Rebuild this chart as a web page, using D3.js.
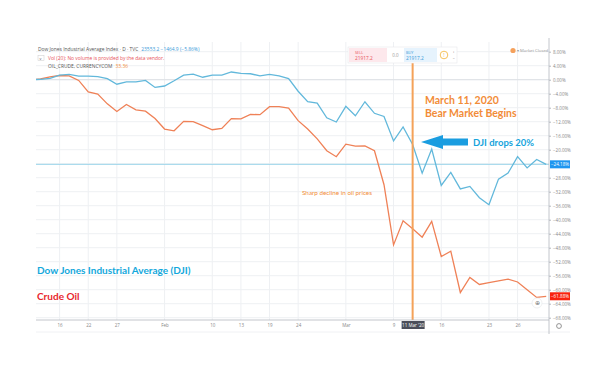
<!DOCTYPE html>
<html>
<head>
<meta charset="utf-8">
<script src="https://cdn.jsdelivr.net/npm/d3@7"></script>
<style>
  body { margin: 0; background: #fff; }
  svg { display: block; }
</style>
</head>
<body>
<div id="chart"></div>
<script>
// trading days shown on the chart
var days = ["2020-01-13","2020-01-14","2020-01-15","2020-01-16","2020-01-17","2020-01-21","2020-01-22","2020-01-23","2020-01-24",
	"2020-01-27","2020-01-28","2020-01-29","2020-01-30","2020-01-31","2020-02-03","2020-02-04","2020-02-05","2020-02-06","2020-02-07",
	"2020-02-10","2020-02-11","2020-02-12","2020-02-13","2020-02-14","2020-02-18","2020-02-19","2020-02-20","2020-02-21",
	"2020-02-24","2020-02-25","2020-02-26","2020-02-27","2020-02-28","2020-03-02","2020-03-03","2020-03-04","2020-03-05","2020-03-06",
	"2020-03-09","2020-03-10","2020-03-11","2020-03-12","2020-03-13","2020-03-16","2020-03-17","2020-03-18","2020-03-19","2020-03-20",
	"2020-03-23","2020-03-24","2020-03-25","2020-03-26","2020-03-27","2020-03-30","2020-03-31"]

// % change
var dji = [0, 0.1, 0.4, 1.3, 1.5, 1.0, 1.0, 0.9, 0.3,
	-1.3, -0.6, -0.6, -0.2, -2.2, -1.8, -0.3, 1.3, 1.6, 0.7,
	1.3, 1.3, 2.2, 1.8, 1.7, 1.1, 1.5, 1.1, 0.3,
	-3.3, -6.3, -6.7, -10.9, -12.1, -7.6, -10.3, -6.3, -9.6, -10.5,
	-17.5, -13.5, -18.5, -26.7, -19.8, -30.2, -26.5, -31.2, -30.5, -33.7,
	-35.7, -28.4, -26.7, -22.0, -25.2, -22.8, -24.18]

var oil = [0, 0.2, 0.8, 1.2, 1.1, -0.2, -3.5, -4.1, -6.9,
	-9.1, -7.1, -8.6, -9.0, -11.1, -14.1, -14.6, -11.9, -12.0, -13.1,
	-14.3, -13.9, -11.1, -11.2, -9.9, -10.0, -7.7, -7.7, -8.1,
	-11.7, -14.1, -16.9, -20.3, -22.0, -18.4, -19.0, -18.9, -20.3, -30.0,
	-47.2, -40.3, -42.6, -45.0, -40.5, -50.5, -49.0, -60.8, -56.5, -58.5,
	-58.0, -57.5, -57.0, -57.8, -60.0, -62.2, -61.88]

var tickDates = ["2020-01-16","2020-01-22","2020-01-27","2020-02-03","2020-02-10","2020-02-13","2020-02-19","2020-02-24",
	"2020-03-02","2020-03-09","2020-03-16","2020-03-23","2020-03-26"]
var tickLabels = ["16","22","27","Feb","10","13","19","24","Mar","9","16","23","26"]

var yTicks = d3.range(8, -69, -4)
var eventDate = "2020-03-11"

var width = 600, height = 384
var plotLeft = 36, plotRight = 549, plotTop = 42, plotBottom = 320

var svg = d3.select("#chart").append("svg")
	.attr("width", width)
	.attr("height", height)
	.style("font-family", "'Open Sans', sans-serif")

var x = d3.scaleLinear()
	.domain([0, days.length - 1])
	.range([31, 546.2])

var y = d3.scaleLinear()
	.domain([8, -68])
	.range([51.7, 317.7])

function xd(date){ return x(days.indexOf(date)) }

// grid
svg.append("g").selectAll("line")
	.data(tickDates)
	.enter().append("line")
	.attr("x1", function(d){ return xd(d) })
	.attr("x2", function(d){ return xd(d) })
	.attr("y1", plotTop)
	.attr("y2", plotBottom)
	.attr("stroke", "#eef0f3")
	.attr("stroke-width", 1)

svg.append("g").selectAll("line")
	.data(yTicks)
	.enter().append("line")
	.attr("x1", plotLeft)
	.attr("x2", plotRight)
	.attr("y1", function(d){ return y(d) })
	.attr("y2", function(d){ return y(d) })
	.attr("stroke", "#eef0f3")
	.attr("stroke-width", 1)

// zero line
svg.append("line")
	.attr("x1", plotLeft).attr("x2", plotRight)
	.attr("y1", y(0)).attr("y2", y(0))
	.attr("stroke", "#d8dbe0").attr("stroke-width", 0.8)

// last value price line of DJI
svg.append("line")
	.attr("x1", plotLeft).attr("x2", plotRight)
	.attr("y1", y(dji[dji.length - 1])).attr("y2", y(dji[dji.length - 1]))
	.attr("stroke", "#9ad4ea").attr("stroke-width", 1)

svg.append("clipPath").attr("id", "plotclip")
	.append("rect").attr("x", plotLeft).attr("y", plotTop)
	.attr("width", plotRight - plotLeft).attr("height", plotBottom - plotTop)

var line = d3.line()
	.x(function(d, i){ return x(i) })
	.y(function(d){ return y(d) })

var plot = svg.append("g").attr("clip-path", "url(#plotclip)")

plot.append("path")
	.datum(oil)
	.attr("d", line)
	.attr("fill", "none")
	.attr("stroke", "#ef8157")
	.attr("stroke-width", 1.3)

plot.append("path")
	.datum(dji)
	.attr("d", line)
	.attr("fill", "none")
	.attr("stroke", "#62b8db")
	.attr("stroke-width", 1.3)

// event line
svg.append("line")
	.attr("x1", xd(eventDate)).attr("x2", xd(eventDate))
	.attr("y1", 63).attr("y2", plotBottom)
	.attr("stroke", "#f4a259")
	.attr("stroke-width", 2)

// axes frame
svg.append("line")
	.attr("x1", plotLeft).attr("x2", plotRight)
	.attr("y1", plotBottom).attr("y2", plotBottom)
	.attr("stroke", "#b4b8bf").attr("stroke-width", 0.8)
svg.append("line")
	.attr("x1", plotLeft).attr("x2", 570)
	.attr("y1", 332).attr("y2", 332)
	.attr("stroke", "#eceef1").attr("stroke-width", 0.8)
svg.append("line")
	.attr("x1", plotRight).attr("x2", plotRight)
	.attr("y1", plotTop - 4).attr("y2", 334)
	.attr("stroke", "#b4b8bf").attr("stroke-width", 0.8)

// x axis labels
var xAxis = d3.axisBottom(x)
	.tickValues(tickDates.map(function(d){ return days.indexOf(d) }))
	.tickFormat(function(d, i){ return tickLabels[i] })
	.tickSize(0)
	.tickPadding(4)
var gx = svg.append("g")
	.attr("transform", "translate(0," + plotBottom + ")")
	.call(xAxis)
gx.select(".domain").remove()
gx.selectAll("text").attr("fill", "#888").attr("font-size", 4.5).attr("font-family", "'Open Sans', sans-serif")

// right axis labels
var boxes = [dji[dji.length - 1], oil[oil.length - 1]]
var yAxis = d3.axisRight(y)
	.tickValues(yTicks.filter(function(t){
		return boxes.every(function(b){ return Math.abs(y(t) - y(b)) > 5 })
	}))
	.tickFormat(function(d){ return d3.format(".2f")(d).replace("-", "\u2212") + "%" })
	.tickSize(2)
	.tickPadding(2)
var gy = svg.append("g")
	.attr("transform", "translate(" + plotRight + ",0)")
	.call(yAxis)
gy.select(".domain").remove()
gy.selectAll("line").attr("stroke", "#b4b8bf")
gy.selectAll("text").attr("fill", "#888").attr("font-size", 4.5).attr("font-family", "'Open Sans', sans-serif")

// last value boxes
var boxColours = ["#1e96f0", "#f8230e"]
boxes.forEach(function(b, i){
	svg.append("rect")
		.attr("x", plotRight + 1).attr("y", y(b) - 4)
		.attr("width", 20).attr("height", 8)
		.attr("fill", boxColours[i])
	svg.append("text")
		.attr("x", plotRight + 11).attr("y", y(b) + 1.7)
		.attr("text-anchor", "middle")
		.attr("font-size", 4.6)
		.attr("fill", "#fff")
		.text(d3.format(".2f")(b).replace("-", "\u2212") + "%")
})

// date box on x axis
svg.append("rect")
	.attr("x", xd(eventDate) - 11).attr("y", plotBottom + 1)
	.attr("width", 23).attr("height", 8)
	.attr("fill", "#4a4e5a")
svg.append("text")
	.attr("x", xd(eventDate) + 0.5).attr("y", plotBottom + 6.6)
	.attr("text-anchor", "middle")
	.attr("font-size", 4.5)
	.attr("fill", "#fff")
	.text("11 Mar '20")

// gear icon + small circle button
svg.append("circle").attr("cx", 559).attr("cy", 326).attr("r", 2.4)
	.attr("fill", "none").attr("stroke", "#888").attr("stroke-width", 0.9)
svg.append("circle").attr("cx", 537).attr("cy", 303).attr("r", 5)
	.attr("fill", "#fff").attr("stroke", "#e3e5e8").attr("stroke-width", 0.6)
svg.append("text").attr("x", 537).attr("y", 305).attr("text-anchor", "middle")
	.attr("font-size", 6).attr("fill", "#777").text("\u2295")

// header lines
var head = svg.append("g").attr("font-size", 4.9)
var t1 = head.append("text").attr("x", 38).attr("y", 51).attr("fill", "#555")
	.text("Dow Jones Industrial Average Index \u00b7 D \u00b7 TVC")
head.append("text").attr("x", 38 + t1.node().getComputedTextLength() + 3).attr("y", 51).attr("fill", "#3a9ad9")
	.text("23553.2  \u22121464.9 (\u22125.86%)")
head.append("rect").attr("x", 38).attr("y", 55.5).attr("width", 6).attr("height", 5)
	.attr("fill", "#fff").attr("stroke", "#ccc").attr("stroke-width", 0.5)
head.append("text").attr("x", 39.3).attr("y", 59.6).attr("fill", "#666").attr("font-size", 4).text("\u02c5")
head.append("text").attr("x", 48).attr("y", 59.5).attr("fill", "#e8525a")
	.text("Vol (20): No volume is provided by the data vendor.")
var t3 = head.append("text").attr("x", 48).attr("y", 67.5).attr("fill", "#555")
	.text("OIL_CRUDE, CURRENCYCOM")
head.append("text").attr("x", 48 + t3.node().getComputedTextLength() + 3).attr("y", 67.5).attr("fill", "#f08a3c")
	.text("33.36")

// sell / buy widget
var w = svg.append("g")
w.append("rect").attr("x", 348).attr("y", 47).attr("width", 109).attr("height", 16)
	.attr("fill", "#fff").attr("stroke", "#e6e8eb").attr("stroke-width", 0.6)
w.append("rect").attr("x", 349).attr("y", 48).attr("width", 38).attr("height", 14).attr("fill", "#fde8ec")
w.append("rect").attr("x", 404).attr("y", 48).attr("width", 33).attr("height", 14).attr("fill", "#e6f3fd")
w.append("text").attr("x", 355).attr("y", 53.5).attr("font-size", 3.8).attr("fill", "#e8525a").text("SELL")
w.append("text").attr("x", 355).attr("y", 59.5).attr("font-size", 4.8).attr("fill", "#e8525a").text("21917.2")
w.append("text").attr("x", 395.5).attr("y", 57).attr("font-size", 4.5).attr("text-anchor", "middle").attr("fill", "#999").text("0.0")
w.append("text").attr("x", 406).attr("y", 53.5).attr("font-size", 3.8).attr("fill", "#3a9ad9").text("BUY")
w.append("text").attr("x", 406).attr("y", 59.5).attr("font-size", 4.8).attr("fill", "#3a9ad9").text("21917.2")
w.append("circle").attr("cx", 444).attr("cy", 55).attr("r", 3.8)
	.attr("fill", "#fff").attr("stroke", "#f2b134").attr("stroke-width", 0.8)
w.append("text").attr("x", 444).attr("y", 56.8).attr("font-size", 5).attr("text-anchor", "middle").attr("fill", "#f2b134").text("!")
w.append("text").attr("x", 452.5).attr("y", 53).attr("font-size", 4).attr("fill", "#666").text("+")
w.append("text").attr("x", 452.8).attr("y", 59).attr("font-size", 4).attr("fill", "#666").text("\u2013")

// market closed badge
svg.append("circle").attr("cx", 513).attr("cy", 50.5).attr("r", 2.6).attr("fill", "#f5a15c")
svg.append("text").attr("x", 517).attr("y", 52).attr("font-size", 4.2).attr("fill", "#999").text("\u25be Market Closed")

// annotations
var note = svg.append("g").attr("font-family", "Lato, 'Open Sans', sans-serif").attr("font-weight", "bold")
note.append("text").attr("x", 425).attr("y", 104).attr("font-size", 10.5).attr("fill", "#f28c38").text("March 11, 2020")
note.append("text").attr("x", 425).attr("y", 117).attr("font-size", 10.5).attr("fill", "#f28c38").text("Bear Market Begins")
note.append("text").attr("x", 473).attr("y", 146).attr("font-size", 9.5).attr("fill", "#16a4dc").text("DJI drops 20%")
note.append("text").attr("x", 302).attr("y", 195).attr("font-size", 6.3).attr("font-weight", "normal").attr("fill", "#f28c38").text("Sharp decline in oil prices")
note.append("text").attr("x", 37).attr("y", 274).attr("font-size", 10).attr("fill", "#13a8dc").text("Dow Jones Industrial Average (DJI)")
note.append("text").attr("x", 37).attr("y", 300).attr("font-size", 10).attr("fill", "#e8262c").text("Crude Oil")

// block arrow pointing at the event line
var ay = 142
svg.append("path")
	.attr("d", "M421," + ay + " L443," + (ay - 7) + " L443," + (ay - 3.5) + " L468," + (ay - 3.5) +
		" L468," + (ay + 3.5) + " L443," + (ay + 3.5) + " L443," + (ay + 7) + " Z")
	.attr("fill", "#1a9de0")
</script>
</body>
</html>
